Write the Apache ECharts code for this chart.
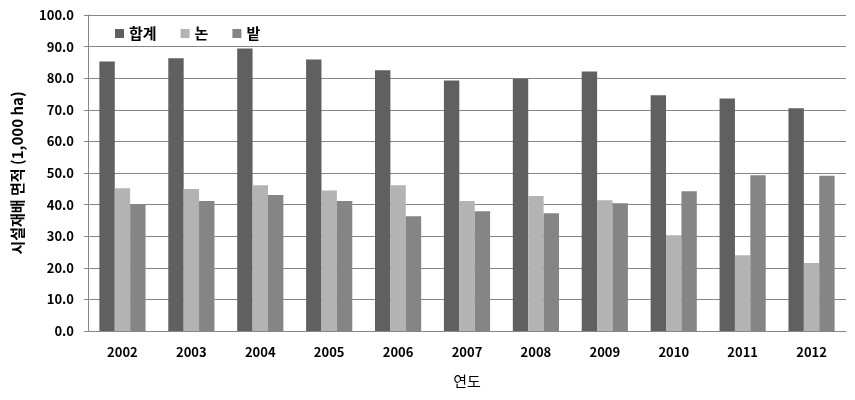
<!DOCTYPE html>
<html>
<head>
<meta charset="utf-8">
<script src="https://cdn.jsdelivr.net/npm/echarts@6/dist/echarts.min.js"></script>
<style>html,body{margin:0;padding:0;background:#fff}#c{width:855px;height:400px}</style>
</head>
<body>
<div id="c"></div>
<script>
const categories = ['2002','2003','2004','2005','2006','2007','2008','2009','2010','2011','2012'];
const totalArea = [85.3, 86.3, 89.4, 85.9, 82.5, 79.3, 79.8, 82.1, 74.6, 73.6, 70.5];
const paddyArea = [45.2, 44.9, 46.1, 44.5, 46.1, 41.1, 42.7, 41.4, 30.3, 24.0, 21.5];
const fieldArea = [40.0, 41.1, 43.0, 41.1, 36.3, 37.9, 37.3, 40.4, 44.2, 49.3, 49.1];
const seriesNames = ['합계', '논', '밭'];

const font = "'Noto Sans CJK KR', 'Noto Sans', sans-serif";
const chart = echarts.init(document.getElementById('c'), null, {renderer: 'canvas'});
chart.setOption({
  animation: false,
  textStyle: {fontFamily: font},
  color: ['#606060', '#b3b3b3', '#858585'],
  legend: {
    left: 110, top: 21,
    itemWidth: 9, itemHeight: 9, itemGap: 24,
    icon: 'rect',
    textStyle: {fontFamily: font, fontSize: 15, fontWeight: 'bold', color: '#000', padding: [0,0,0,0]},
    data: seriesNames
  },
  grid: {left: 88, right: 9, top: 15, bottom: 69, containLabel: false},
  xAxis: {
    type: 'category',
    data: categories,
    name: '연도',
    nameLocation: 'middle',
    nameGap: 43,
    nameTextStyle: {fontFamily: font, fontSize: 15, color: '#000'},
    axisLine: {lineStyle: {color: '#868686', width: 1}},
    axisTick: {show: false},
    axisLabel: {fontFamily: font, fontSize: 13, fontWeight: 'bold', color: '#000', margin: 15}
  },
  yAxis: {
    type: 'value',
    min: 0, max: 100, interval: 10,
    name: '시설재배 면적 (1,000 ha)',
    nameLocation: 'middle',
    nameGap: 63,
    nameTextStyle: {fontFamily: font, fontSize: 15, fontWeight: 'bold', color: '#000'},
    axisLine: {show: true, lineStyle: {color: '#868686', width: 1}},
    axisTick: {show: true, length: 4, inside: false, lineStyle: {color: '#868686'}},
    axisLabel: {fontFamily: font, fontSize: 13, fontWeight: 'bold', color: '#000', margin: 14,
      formatter: v => v.toFixed(1)},
    splitLine: {lineStyle: {color: '#868686', width: 1}}
  },
  series: [
    {name: seriesNames[0], type: 'bar', data: totalArea, barGap: '0%', barCategoryGap: '33%'},
    {name: seriesNames[1], type: 'bar', data: paddyArea, barGap: '0%', barCategoryGap: '33%'},
    {name: seriesNames[2], type: 'bar', data: fieldArea, barGap: '0%', barCategoryGap: '33%'}
  ]
});
</script>
</body>
</html>
